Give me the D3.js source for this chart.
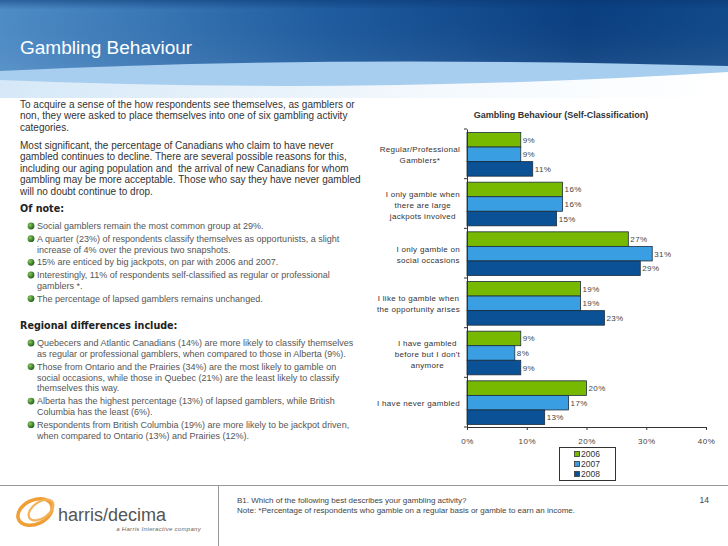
<!DOCTYPE html>
<html>
<head>
<meta charset="utf-8">
<script src="https://d3js.org/d3.v7.min.js"></script>
<style>
  body { margin:0; padding:0; background:#fff; }
  svg text { font-family: "Liberation Sans", Arial, sans-serif; white-space: pre; }
</style>
</head>
<body>
<div id="canvas"></div>
<script>
//chart data
var categories = ["Regular/Professional Gamblers*", "I only gamble when there are large jackpots involved",
    "I only gamble on social occasions", "I like to gamble when the opportunity arises",
    "I have gambled before but I don't anymore", "I have never gambled"];
var categoryLines = [
    ["Regular/Professional", "Gamblers*"],
    ["I only gamble when", "there are large", "jackpots involved"],
    ["I only gamble on", "social occasions"],
    ["I like to gamble when", "the opportunity arises"],
    ["I have gambled", "before but I don't", "anymore"],
    ["I have never gambled"]
];
var years = ["2006", "2007", "2008"];
var values2006 = [9, 16, 27, 19, 9, 20];
var values2007 = [9, 16, 31, 19, 8, 17];
var values2008 = [11, 15, 29, 23, 9, 13];
var xTicks = [0, 10, 20, 30, 40];
var colors = ["#77b800", "#3a9fe2", "#0a5195"];

//text on the left side
var intro = ["To acquire a sense of the how respondents see themselves, as gamblers or",
    "non, they were asked to place themselves into one of six gambling activity",
    "categories."];
var intro2 = ["Most significant, the percentage of Canadians who claim to have never",
    "gambled continues to decline. There are several possible reasons for this,",
    "including our aging population and  the arrival of new Canadians for whom",
    "gambling may be more acceptable. Those who say they have never gambled",
    "will no doubt continue to drop."];
var noteBullets = [
    ["Social gamblers remain the most common group at 29%."],
    ["A quarter (23%) of respondents classify themselves as opportunists, a slight", "increase of 4% over the previous two snapshots."],
    ["15% are enticed by big jackpots, on par with 2006 and 2007."],
    ["Interestingly, 11% of respondents self-classified as regular or professional", "gamblers *."],
    ["The percentage of lapsed gamblers remains unchanged."]
];
var regionBullets = [
    ["Quebecers and Atlantic Canadians (14%) are more likely to classify themselves", "as regular or professional gamblers, when compared to those in Alberta (9%)."],
    ["Those from Ontario and the Prairies (34%) are the most likely to gamble on", "social occasions, while those in Quebec (21%) are the least likely to classify", "themselves this way."],
    ["Alberta has the highest percentage (13%) of lapsed gamblers, while British", "Columbia has the least (6%)."],
    ["Respondents from British Columbia (19%) are more likely to be jackpot driven,", "when compared to Ontario (13%) and Prairies (12%)."]
];

var W = 728, H = 546;
var svg = d3.select('#canvas').append('svg')
    .attr('width', W).attr('height', H);

var defs = svg.append('defs');
var sky = defs.append('linearGradient').attr('id', 'sky').attr('x1', 0).attr('x2', 1).attr('y1', 0).attr('y2', 0);
sky.append('stop').attr('offset', '0').attr('stop-color', '#4f8dc7');
sky.append('stop').attr('offset', '0.45').attr('stop-color', '#1f5c9f');
sky.append('stop').attr('offset', '0.8').attr('stop-color', '#0a3f80');
sky.append('stop').attr('offset', '1').attr('stop-color', '#114a8a');
var shade = defs.append('linearGradient').attr('id', 'shade').attr('x1', 0).attr('x2', 0).attr('y1', 0).attr('y2', 1);
shade.append('stop').attr('offset', '0').attr('stop-color', '#0a3570').attr('stop-opacity', 0.5);
shade.append('stop').attr('offset', '0.1').attr('stop-color', '#0a3570').attr('stop-opacity', 0);
shade.append('stop').attr('offset', '1').attr('stop-color', '#ffffff').attr('stop-opacity', 0.15);
var fade = defs.append('linearGradient').attr('id', 'fade').attr('x1', 0).attr('x2', 1).attr('y1', 0).attr('y2', 0);
fade.append('stop').attr('offset', '0').attr('stop-color', '#d6e8f7');
fade.append('stop').attr('offset', '0.6').attr('stop-color', '#f4f9fd');
fade.append('stop').attr('offset', '1').attr('stop-color', '#ffffff');
var gem = defs.append('radialGradient').attr('id', 'gem').attr('cx', '0.35').attr('cy', '0.35').attr('r', '0.7');
gem.append('stop').attr('offset', '0').attr('stop-color', '#8cc860');
gem.append('stop').attr('offset', '1').attr('stop-color', '#1a5e16');

//header banner
svg.append('rect').attr('x', 0).attr('y', 0).attr('width', W).attr('height', 94).style('fill', 'url(#sky)');
svg.append('rect').attr('x', 0).attr('y', 0).attr('width', W).attr('height', 94).style('fill', 'url(#shade)');
svg.append('path')
    .attr('d', 'M0,71 Q320,55 728,66 L728,76 Q380,93 0,83 Z')
    .style('fill', '#a7cdef');
svg.append('path')
    .attr('d', 'M0,80 Q360,95 728,72 L728,98 L0,98 Z')
    .style('fill', 'url(#fade)');
svg.append('text').attr('x', 20).attr('y', 54)
    .text('Gambling Behaviour')
    .style('font-size', '19px').style('fill', '#ffffff');

//left text block
var left = svg.append('g');
function lines(arr, x, y0, step, size, color, weight) {
    arr.forEach(function(s, i) {
        left.append('text').attr('x', x).attr('y', y0 + i * step)
            .text(s)
            .style('font-size', size).style('fill', color)
            .style('font-weight', weight || 'normal');
    });
}
lines(intro, 20, 107.5, 11.6, '10px', '#333');
lines(intro2, 20, 148.5, 11.6, '10px', '#333');
left.append('text').attr('x', 20).attr('y', 212).text('Of note:')
    .style('font-family', '"DejaVu Sans", Verdana, sans-serif')
    .style('font-size', '9.6px').style('font-weight', 'bold').style('fill', '#222');
left.append('text').attr('x', 20).attr('y', 329).text('Regional differences include:')
    .style('font-family', '"DejaVu Sans", Verdana, sans-serif')
    .style('font-size', '9.6px').style('font-weight', 'bold').style('fill', '#222');

function bullets(list, y0) {
    var y = y0;
    list.forEach(function(b) {
        left.append('circle').attr('cx', 31).attr('cy', y - 3).attr('r', 3.4)
            .style('fill', 'url(#gem)');
        lines(b, 37, y, 10.9, '9px', '#555');
        y += b.length * 10.9 + 1.8;
    });
}
bullets(noteBullets, 229);
bullets(regionBullets, 346);

//chart
var x = d3.scaleLinear().domain([0, 40]).range([467, 706]);
var y = d3.scaleBand().domain(categories).range([129, 427]);
var yInner = d3.scaleBand().domain(years).range([3.5, y.bandwidth() - 2.5]);

var chart = svg.append('g');
chart.append('text').attr('x', 561).attr('y', 118)
    .attr('text-anchor', 'middle')
    .text('Gambling Behaviour (Self-Classification)')
    .style('font-size', '9px').style('font-weight', 'bold').style('fill', '#333');

var series = [values2006, values2007, values2008];
series.forEach(function(vals, s) {
    categories.forEach(function(c, i) {
        chart.append('rect')
            .attr('x', x(0))
            .attr('y', y(c) + yInner(years[s]))
            .attr('width', x(vals[i]) - x(0))
            .attr('height', yInner.bandwidth())
            .style('fill', colors[s])
            .style('stroke', '#1d2d3c').style('stroke-width', 0.8);
        chart.append('text')
            .attr('x', x(vals[i]) + 2)
            .attr('y', y(c) + yInner(years[s]) + yInner.bandwidth() / 2 + 3)
            .text(vals[i] + '%')
            .style('font-size', '8px').style('letter-spacing', '0.4px').style('fill', '#444');
    });
});

//axes
var xAxis = d3.axisBottom(x).tickValues(xTicks).tickSize(3).tickPadding(8)
    .tickFormat(function(d) { return d + '%'; });
var gx = chart.append('g').attr('transform', 'translate(0,' + 427 + ')').call(xAxis);
gx.select('.domain').style('stroke', '#333');
gx.selectAll('.tick line').style('stroke', '#333');
gx.selectAll('.tick text').style('font-family', '"Liberation Sans", Arial, sans-serif')
    .style('font-size', '8px').style('letter-spacing', '0.5px').style('fill', '#444');

var yAxis = d3.axisLeft(y).tickSize(0).tickFormat('');
var gy = chart.append('g').attr('transform', 'translate(' + x(0) + ',0)').call(yAxis);
gy.select('.domain').style('stroke', '#333');
//ticks between categories
categories.concat(['end']).forEach(function(c, i) {
    var yy = i < categories.length ? y(c) : y.range()[1];
    chart.append('line').attr('x1', x(0) - 3).attr('x2', x(0))
        .attr('y1', yy).attr('y2', yy).style('stroke', '#333');
});

//category labels, lines centred inside a right aligned block
categoryLines.forEach(function(ls, i) {
    var g = chart.append('g');
    var cy = y(categories[i]) + y.bandwidth() / 2 + 1;
    var texts = ls.map(function(s, j) {
        return g.append('text')
            .attr('y', cy + (j - (ls.length - 1) / 2) * 11 + 3)
            .attr('text-anchor', 'middle')
            .text(s)
            .style('font-size', '8px').style('letter-spacing', '0.3px').style('fill', '#333');
    });
    var maxW = d3.max(texts, function(t) { return t.node().getComputedTextLength(); });
    texts.forEach(function(t) { t.attr('x', 460 - maxW / 2); });
});

//legend
var lg = chart.append('g');
lg.append('rect').attr('x', 559.5).attr('y', 447.5).attr('width', 56).attr('height', 33)
    .style('fill', '#fff').style('stroke', '#333');
years.forEach(function(yr, i) {
    lg.append('rect').attr('x', 574.5).attr('y', 451.5 + i * 10).attr('width', 5).attr('height', 5)
        .style('fill', colors[i]).style('stroke', '#333').style('stroke-width', 0.8);
    lg.append('text').attr('x', 581).attr('y', 457 + i * 10).text(yr)
        .style('font-size', '8.5px').style('fill', '#333');
});

//footer
svg.append('line').attr('x1', 0).attr('x2', W).attr('y1', 485.5).attr('y2', 485.5)
    .style('stroke', '#999');
svg.append('line').attr('x1', 218.5).attr('x2', 218.5).attr('y1', 485.5).attr('y2', H)
    .style('stroke', '#999');
svg.append('text').attr('x', 237).attr('y', 503)
    .text('B1. Which of the following best describes your gambling activity?')
    .style('font-size', '8px').style('fill', '#444');
svg.append('text').attr('x', 237).attr('y', 512.5)
    .text('Note: *Percentage of respondents who gamble on a regular basis or gamble to earn an income.')
    .style('font-size', '8px').style('fill', '#444');
svg.append('text').attr('x', 709).attr('y', 503).attr('text-anchor', 'end')
    .text('14').style('font-size', '8.5px').style('fill', '#444');

//logo
var logo = svg.append('g');
logo.append('ellipse').attr('cx', 35).attr('cy', 512).attr('rx', 18).attr('ry', 12)
    .attr('transform', 'rotate(-25,35,512)')
    .style('fill', 'none').style('stroke', '#ef9f35').style('stroke-width', 3.5);
logo.append('ellipse').attr('cx', 41).attr('cy', 510).attr('rx', 14).attr('ry', 8)
    .attr('transform', 'rotate(-35,41,510)')
    .style('fill', 'none').style('stroke', '#f3b25a').style('stroke-width', 2.2);
logo.append('text').attr('x', 58).attr('y', 521).text('harris/decima')
    .style('font-size', '18px').style('fill', '#555');
logo.append('text').attr('x', 201).attr('y', 531).attr('text-anchor', 'end')
    .text('a Harris Interactive company')
    .style('font-size', '6px').style('font-style', 'italic').style('letter-spacing', '0.3px').style('fill', '#666');
</script>
</body>
</html>
